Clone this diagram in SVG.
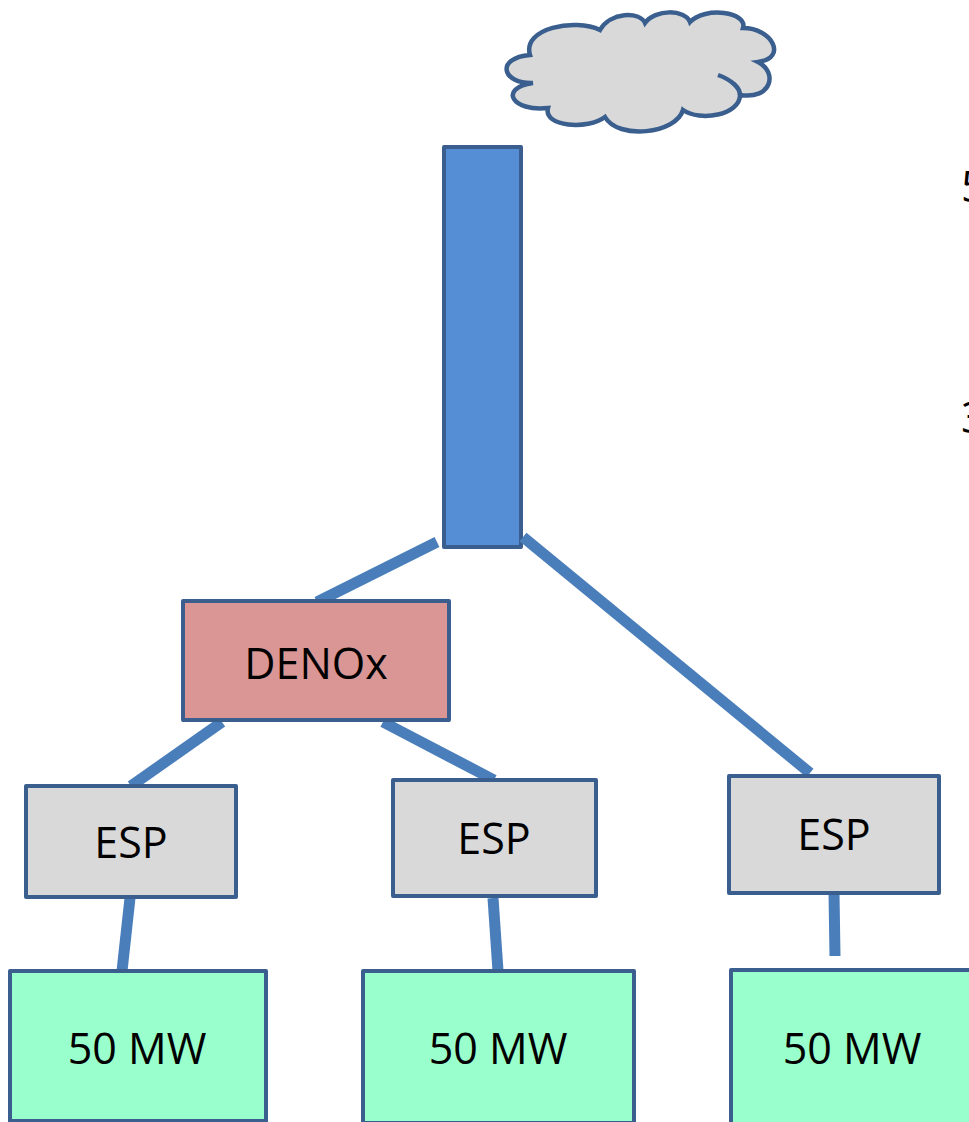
<svg xmlns="http://www.w3.org/2000/svg" width="969" height="1122" viewBox="0 0 969 1122">
<style>
.box{stroke:#3A5F8E;stroke-width:4;stroke-linejoin:round}
.lbl{font-family:"Open Sans","Liberation Sans",sans-serif;font-size:43px;fill:#000;text-anchor:middle}
.conn line{stroke:#4A7EBB;stroke-width:11;stroke-linecap:butt}
</style>
<rect width="969" height="1122" fill="#fff"/>
<g id="cloud">
<path d="M533,83 C502,84 495,58 530,55 C522,28 575,18 600,30 C610,12 640,11 645,23 C655,9 685,9 690,22 C705,6 748,12 743,28 C772,28 788,58 758,62 C778,72 772,100 740,95 C740,115 700,122 683,110 C676,134 618,140 605,117 C588,130 543,127 548,108 C512,112 498,88 533,83 Z" fill="#D9D9D9" stroke="#3A5F8E" stroke-width="4.5"/>
<path d="M718,75 C732,80 740,88 740,95" fill="none" stroke="#3A5F8E" stroke-width="4.5"/>
</g>
<g id="stack"><rect class="box" x="444" y="147" width="77" height="400" fill="#558ED5"/></g>
<g class="conn" id="connectors">
<line x1="437" y1="542" x2="317" y2="602"/>
<line x1="523" y1="537" x2="810" y2="773"/>
<line x1="222" y1="722" x2="131" y2="786"/>
<line x1="383" y1="722" x2="494" y2="780"/>
<line x1="130" y1="898" x2="122" y2="971"/>
<line x1="493" y1="898" x2="498" y2="971"/>
<line x1="834" y1="893" x2="835" y2="956"/>
</g>
<g id="denox"><rect class="box" x="183" y="601" width="266" height="119" fill="#D99694"/><text class="lbl" x="316" y="679">DENOx</text></g>
<g id="esp1"><rect class="box" x="26" y="786" width="210" height="111" fill="#D9D9D9"/><text class="lbl" x="131" y="858">ESP</text></g>
<g id="esp2"><rect class="box" x="393" y="780" width="203" height="116" fill="#D9D9D9"/><text class="lbl" x="494" y="854">ESP</text></g>
<g id="esp3"><rect class="box" x="729" y="776" width="210" height="117" fill="#D9D9D9"/><text class="lbl" x="834" y="850">ESP</text></g>
<g id="mw1"><rect class="box" x="10" y="971" width="256" height="150" fill="#99FFCC"/><text class="lbl" x="137" y="1064">50 MW</text></g>
<g id="mw2"><rect class="box" x="363" y="971" width="271" height="152" fill="#99FFCC"/><text class="lbl" x="498" y="1064">50 MW</text></g>
<g id="mw3"><rect class="box" x="731" y="970" width="250" height="155" fill="#99FFCC"/><text class="lbl" x="852" y="1064">50 MW</text></g>
<g id="side-text"><text class="lbl" x="961" y="202" style="text-anchor:start">5</text><text class="lbl" x="961" y="433" style="text-anchor:start">3</text></g>
</svg>
